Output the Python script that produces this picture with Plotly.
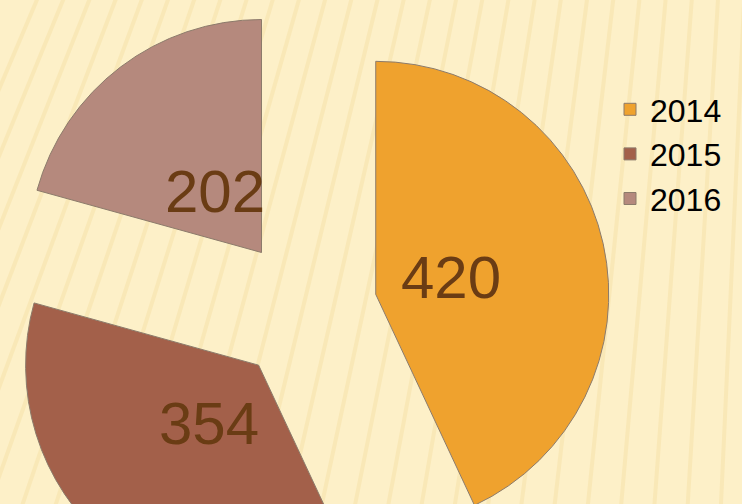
import numpy as np
import plotly.graph_objects as go

# ---- data ----
years = ["2014", "2015", "2016"]
values = [420, 354, 202]
colors = ["#EFA22E", "#A3604A", "#B5897D"]

# ---- layout constants (style / geometry) ----
W, H = 742, 620            # figure is taller than window: pie runs off the bottom
R_PIE = 233                # slice radius in px
PULL = 0.31                # explode fraction
LABEL_FRAC = 0.33          # label distance from slice tip, fraction of radius
CY = 310                   # pie centre height in px
BG = "#FDF0C8"

half = R_PIE * (1 + PULL)   # half side of the pie box
cx, cy = half, CY

fig = go.Figure()

fig.add_trace(go.Pie(
    labels=years,
    values=values,
    sort=False,
    direction="clockwise",
    rotation=0,
    pull=[PULL] * len(values),
    marker=dict(colors=colors, line=dict(color="#8C7B6B", width=1)),
    textinfo="none",
    hoverinfo="label+value",
    domain=dict(x=[0, 2 * half / W], y=[1 - (cy + half) / H, 1 - (cy - half) / H]),
))

# value labels, placed from the slice geometry derived from the values
tot = sum(values)
start = 0.0
annotations = []
for v in values:
    ang = 360.0 * v / tot
    mid = np.deg2rad(start + ang / 2)
    ux, uy = np.sin(mid), -np.cos(mid)
    dist = PULL * R_PIE + LABEL_FRAC * R_PIE
    px, py = cx + dist * ux, cy + dist * uy
    annotations.append(dict(
        x=px / W, y=1 - py / H, xref="paper", yref="paper",
        text=str(v), showarrow=False, xanchor="center", yanchor="middle",
        font=dict(family="Liberation Sans, Arial, sans-serif", size=60, color="#6A3C14"),
    ))
    start += ang

# faint fanned background stripes
shapes = []
fx, fy = 830.0, -1870.0
for bx in np.arange(-260, 900, 36):
    shapes.append(dict(
        type="line", xref="paper", yref="paper", layer="below",
        x0=fx / W, y0=1 - fy / H, x1=bx / W, y1=1 - 700 / H,
        line=dict(color="rgba(236,205,125,0.22)", width=4),
    ))

fig.update_layout(
    width=W, height=H,
    margin=dict(l=0, r=0, t=0, b=0),
    paper_bgcolor=BG, plot_bgcolor=BG,
    showlegend=True,
    legend=dict(
        x=610 / W, y=1 - 82 / H, xanchor="left", yanchor="top",
        font=dict(family="Liberation Sans, Arial, sans-serif", size=32, color="#000000"),
        bgcolor="rgba(0,0,0,0)", itemwidth=30, tracegroupgap=0,
    ),
    annotations=annotations,
    shapes=shapes,
)

fig.write_html(
    "out.html",
    config={"displayModeBar": False},
    post_script="document.body.style.margin='0';document.body.style.overflow='hidden';",
)
